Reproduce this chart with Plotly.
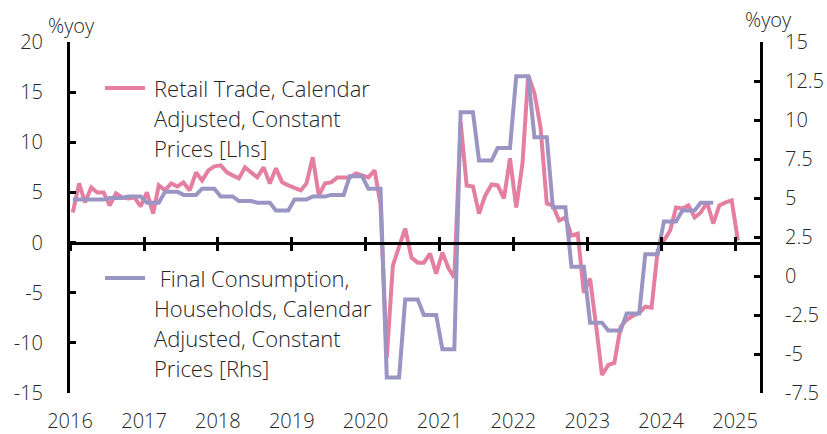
import numpy as np
import pandas as pd
import plotly.graph_objects as go

# Retail trade, calendar adjusted, constant prices, %yoy (monthly, Jan 2016 - Jan 2025), left axis
retail = [
    3.0, 5.9, 4.0, 5.5, 5.0, 5.0, 3.7, 4.9, 4.5, 4.4, 4.5, 3.6,        # 2016
    5.0, 2.9, 5.7, 5.2, 5.9, 5.6, 6.0, 5.2, 7.0, 6.2, 7.2, 7.6,        # 2017
    7.7, 7.0, 6.7, 6.4, 7.5, 7.0, 6.5, 7.5, 5.9, 7.4, 6.0, 5.7,        # 2018
    5.5, 5.2, 5.9, 8.5, 4.7, 5.9, 6.0, 6.5, 6.5, 6.5, 6.9, 6.7,        # 2019
    6.5, 7.2, 3.8, -11.5, -2.3, -0.4, 1.4, -1.5, -2.0, -2.0, -1.1, -3.1,  # 2020
    -1.0, -2.6, -3.5, 12.0, 5.7, 5.6, 2.9, 4.7, 5.8, 5.7, 4.4, 8.4,   # 2021
    3.5, 7.9, 16.7, 14.9, 11.5, 3.9, 3.7, 2.2, 2.5, 0.7, 0.9, -5.0,   # 2022
    -3.6, -8.5, -13.2, -12.2, -12.0, -8.4, -7.7, -7.3, -7.0, -6.4, -6.5, -0.8,  # 2023
    0.2, 1.2, 3.5, 3.4, 3.7, 2.5, 3.0, 4.0, 1.9, 3.7, 4.0, 4.2,        # 2024
    0.2,                                                               # 2025
]

# Final consumption of households, calendar adjusted, constant prices, %yoy
# (quarterly, Q1 2016 - Q3 2024), right axis
consumption_q = [
    4.9, 4.9, 5.0, 5.1,
    4.7, 5.4, 5.2, 5.6,
    5.1, 4.8, 4.7, 4.2,
    4.9, 5.1, 5.2, 6.4,
    5.6, -6.5, -1.5, -2.5,
    -4.7, 10.5, 7.4, 8.2,
    12.8, 8.9, 4.4, 0.6,
    -3.0, -3.5, -2.4, 1.4,
    3.5, 4.2, 4.7,
]

years = list(range(2016, 2026))
left_ticks = [-15, -10, -5, 0, 5, 10, 15, 20]
right_ticks = [-7.5, -5, -2.5, 0, 2.5, 5, 7.5, 10, 12.5, 15]

retail_dates = pd.date_range("2016-01-01", periods=len(retail), freq="MS") + pd.Timedelta(days=14)
# quarterly figures are plotted at monthly frequency (each quarter spans three months)
cons_dates = pd.date_range("2016-01-01", periods=3 * len(consumption_q), freq="MS") + pd.Timedelta(days=14)
consumption = np.repeat(consumption_q, 3)

year_ticks = [f"{y}-01-01" for y in years]
x_range = ["2016-01-01", "2025-05-04"]

PINK = "#E57FA1"
PURPLE = "#9A95C3"
TEXT = "#262626"
FONT = "Open Sans"
FS = 20
FS_LEG = 22
WEIGHT = 300

fig = go.Figure()
fig.add_trace(go.Scatter(x=retail_dates, y=retail, mode="lines",
                         line=dict(color=PINK, width=4), yaxis="y", showlegend=False))
fig.add_trace(go.Scatter(x=cons_dates, y=consumption, mode="lines",
                         line=dict(color=PURPLE, width=4), yaxis="y2", showlegend=False))
# carriers for the zero-line axes (tick marks crossing the zero line)
fig.add_trace(go.Scatter(x=[], y=[], xaxis="x2", yaxis="y", showlegend=False, hoverinfo="skip"))
fig.add_trace(go.Scatter(x=[], y=[], xaxis="x3", yaxis="y", showlegend=False, hoverinfo="skip"))

L, R, T, B = 70, 67, 42, 41
W, H = 827, 434
PW, PH = W - L - R, H - T - B


def px(xp):
    return (xp - L) / PW


def py(yp):
    return (H - B - yp) / PH


zero_pos = (0 - left_ticks[0]) / (left_ticks[-1] - left_ticks[0])

axis_common = dict(type="date", range=x_range, showgrid=False, zeroline=False, automargin=False)
tick_font = dict(family=FONT, size=FS, color=TEXT, weight=WEIGHT)

fig.update_layout(
    width=W, height=H,
    margin=dict(l=L, r=R, t=T, b=B, autoexpand=False),
    paper_bgcolor="white", plot_bgcolor="white",
    font=dict(family=FONT, size=FS, color=TEXT, weight=WEIGHT),
    showlegend=False,
    xaxis=dict(**axis_common, tickvals=year_ticks, ticktext=[str(y) for y in years],
               ticks="", showline=False, tickfont=tick_font,
               ticklabelstandoff=14),
    xaxis2=dict(**axis_common, overlaying="x", anchor="free", position=zero_pos,
                tickvals=year_ticks, showticklabels=False, ticks="outside",
                ticklen=6, tickwidth=3, tickcolor="black",
                showline=True, linecolor="black", linewidth=3),
    xaxis3=dict(**axis_common, overlaying="x", anchor="free", position=zero_pos,
                tickvals=year_ticks, showticklabels=False, ticks="inside",
                ticklen=6, tickwidth=3, tickcolor="black",
                showline=False),
    yaxis=dict(range=[left_ticks[0], left_ticks[-1]], tickvals=left_ticks,
               ticktext=[f"{v:g}" for v in left_ticks],
               ticks="inside", ticklen=6, tickwidth=3, tickcolor="black",
               showline=True, linecolor="black", linewidth=3,
               showgrid=False, zeroline=False, ticklabelstandoff=20,
               automargin=False, tickfont=tick_font),
    yaxis2=dict(range=[right_ticks[0], right_ticks[-1]], tickvals=right_ticks,
                ticktext=[f"{v:g}" for v in right_ticks],
                overlaying="y", side="right", anchor="x",
                ticks="inside", ticklen=6, tickwidth=3, tickcolor="black",
                showline=True, linecolor="black", linewidth=3,
                showgrid=False, zeroline=False, ticklabelstandoff=18,
                automargin=False, tickfont=tick_font),
)

# axis unit labels
fig.add_annotation(text="%yoy", xref="paper", yref="paper", x=px(71), y=py(25),
                   xanchor="center", yanchor="middle", showarrow=False,
                   font=tick_font)
fig.add_annotation(text="%yoy", xref="paper", yref="paper", x=px(768), y=py(20),
                   xanchor="center", yanchor="middle", showarrow=False,
                   font=tick_font)

# legend entries
legend_items = [
    (PINK, 88, ["Retail Trade, Calendar", "Adjusted, Constant", "Prices [Lhs]"]),
    (PURPLE, 278, ["\u00a0Final Consumption,", "Households, Calendar", "Adjusted, Constant", "Prices [Rhs]"]),
]
for color, y0, lines in legend_items:
    fig.add_shape(type="line", xref="paper", yref="paper",
                  x0=px(105), x1=px(145), y0=py(y0), y1=py(y0),
                  line=dict(color=color, width=4))
    for i, txt in enumerate(lines):
        fig.add_annotation(text=txt, xref="paper", yref="paper",
                           x=px(152), y=py(y0 + 30 * i),
                           xanchor="left", yanchor="middle", showarrow=False,
                           font=dict(family=FONT, size=FS_LEG, color=TEXT, weight=WEIGHT))

fig.write_html("out.html")
